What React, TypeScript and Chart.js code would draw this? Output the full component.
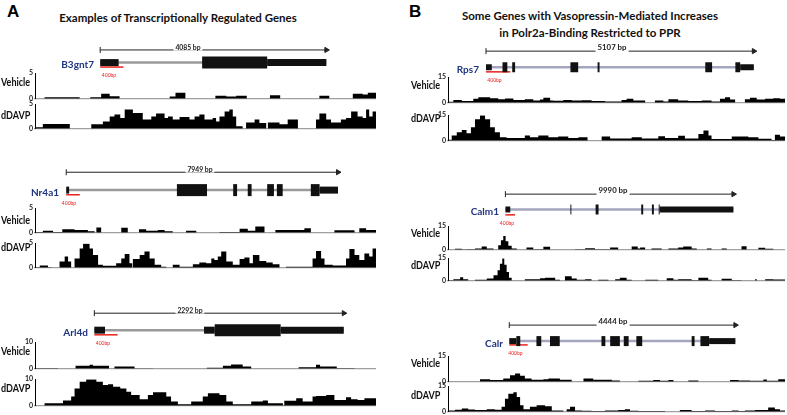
import React, { useEffect, useRef } from "react";
import { Chart, registerables } from "chart.js";
Chart.register(...registerables);

type Step = [number, number];
type Exon = [number, number, "cds" | "utr"];

// ---------------- DATA ----------------
const geneNames = ["B3gnt7", "Nr4a1", "Arl4d", "Rps7", "Calm1", "Calr"];
const geneLengthsBp = [4085, 7949, 2292, 5107, 9990, 4444];
// visible genomic window (bp relative to TSS)
const geneWindows: [number, number][] = [
  [-1087, 4891], [-767, 8914], [-499, 2542], [-629, 5606], [-2296, 12031], [-1106, 5321],
];
const redBarBp = [421, 397, 214, 463, 425, 362];
const trackMax = [5, 5, 10, 15, 15, 15];

const b3gnt7Exons: Exon[] = [[0, 333, "utr"], [1841, 3016, "cds"], [3016, 4085, "utr"]];
const nr4a1Exons: Exon[] = [[0, 85, "utr"], [3237, 4117, "cds"], [4883, 4997, "cds"], [5309, 5422, "cds"], [5877, 6075, "cds"], [6161, 6331, "cds"], [7154, 7410, "cds"], [7410, 7949, "utr"]];
const arl4dExons: Exon[] = [[0, 98, "utr"], [1008, 1106, "utr"], [1106, 1712, "cds"], [1712, 2292, "utr"]];
const rps7Exons: Exon[] = [[0, 111, "utr"], [315, 407, "cds"], [500, 555, "cds"], [1610, 1758, "cds"], [2128, 2165, "cds"], [4181, 4311, "cds"], [4755, 4847, "cds"], [4847, 5107, "utr"]];
const calm1Exons: Exon[] = [[0, 213, "utr"], [2848, 2890, "cds"], [3953, 4081, "cds"], [5951, 6037, "cds"], [6419, 6504, "cds"], [6717, 6760, "cds"], [6760, 9990, "utr"]];
const calrExons: Exon[] = [[0, 139, "utr"], [139, 216, "cds"], [534, 629, "cds"], [801, 992, "cds"], [1812, 1888, "cds"], [1983, 2174, "cds"], [2250, 2346, "cds"], [2498, 2613, "cds"], [3585, 3642, "cds"], [3757, 3928, "cds"], [3928, 4444, "utr"]];

// tracks: [position % of window, value] step starts
const b3gnt7Vehicle: Step[] = [[0,0],[2.8,0.3],[13.1,0],[16.2,0.3],[19.4,1.0],[21.9,0.5],[24.8,0],[39.5,0.45],[41.2,1.2],[44.1,0],[52.9,0.6],[56.1,0.45],[59.0,0.6],[62.1,0],[68.9,0.7],[71.9,0],[83.4,0.6],[86.3,0],[93.2,1.0],[96.1,0.85],[97.6,1.2],[100,1.2]];
const b3gnt7DDAVP: Step[] = [[0,0.3],[2.3,1.0],[10.2,0],[16.5,0.9],[19.9,1.5],[21.9,2.5],[23.3,2.9],[25.0,2.2],[26.3,3.9],[28.7,3.2],[31.6,1.9],[34.1,2.5],[35.5,3.1],[38.0,2.2],[39.0,2.5],[40.4,1.9],[42.4,2.4],[45.3,1.9],[46.8,2.5],[48.2,2.9],[49.7,1.9],[52.1,2.2],[53.1,1.5],[54.1,2.5],[55.6,3.5],[57.0,3.9],[58.0,2.5],[59.0,0.5],[60.9,0],[61.9,1.3],[64.4,1.9],[65.8,1.2],[67.8,0],[68.3,1.3],[71.7,0.9],[74.1,1.9],[77.1,0],[82.4,1.9],[83.4,3.1],[85.4,1.9],[86.8,1.3],[89.7,1.9],[91.2,2.2],[92.7,3.5],[94.6,2.5],[96.1,2.2],[97.1,3.9],[98.0,2.5],[99.0,3.5],[100,3.5]];
const nr4a1Vehicle: Step[] = [[0,0.15],[2.3,0.4],[5.3,0.15],[8.0,0.7],[11.6,0.55],[15.5,0.3],[17.5,0],[18.0,1.1],[19.4,0],[25.3,1.05],[27.2,0],[30.5,0.7],[32.6,0.4],[36.0,0.55],[38.0,0.3],[40.4,0],[44.3,0.4],[47.3,0],[54.1,0.15],[60.0,0.8],[62.4,0.4],[64.6,1.3],[67.3,0],[70.5,0.55],[79.0,0.9],[80.9,0],[87.8,0.5],[93.7,0],[95.1,0.9],[97.1,0.55],[100,0.55]];
const nr4a1DDAVP: Step[] = [[0,0.1],[1.4,0.45],[3.8,0.1],[4.8,0],[7.2,1.3],[8.7,2.3],[9.7,1.3],[10.6,0],[11.6,1.9],[13.1,3.9],[14.1,4.9],[16.0,3.9],[17.0,2.6],[18.5,0.6],[19.9,0.4],[23.8,0.9],[25.3,1.9],[26.3,2.8],[27.7,0.9],[28.5,0],[28.7,1.8],[30.7,2.6],[32.1,3.3],[33.6,1.9],[35.1,0.6],[37.0,0.2],[38.5,0],[40.4,0.6],[42.4,0.2],[46.3,0.7],[48.2,1.1],[50.2,0.9],[51.7,1.9],[52.6,1.6],[53.6,2.3],[54.6,3.3],[56.1,1.3],[58.0,0.6],[60.0,1.8],[61.4,2.1],[62.9,0.9],[63.9,2.6],[65.8,1.4],[67.8,1.1],[69.7,0.7],[71.7,0],[73.6,0.2],[81.4,1.9],[82.4,3.4],[83.9,1.9],[84.9,0.6],[87.3,0.45],[91.2,1.9],[92.2,3.8],[93.7,2.6],[95.1,1.6],[96.6,2.9],[98.0,2.3],[99.0,3.9],[100,3.9]];
const arl4dVehicle: Step[] = [[0,0.25],[6.7,0],[11.9,1.1],[16.0,1.5],[17.0,1.1],[21.7,0],[23.3,0.85],[29.2,0.1],[34.6,0],[50.4,0.4],[55.1,1.1],[57.5,1.6],[60.9,0.85],[63.4,0],[77.3,0.6],[82.4,1.5],[83.6,0.85],[88.5,0.25],[93.7,0],[100,0]];
const arl4dDDAVP: Step[] = [[0,0],[2.8,1.0],[8.2,2.0],[10.6,3.5],[11.6,6.5],[13.1,9.0],[15.0,10],[18.0,9.0],[19.9,7.8],[21.4,8.1],[22.9,7.2],[25.0,6.5],[26.8,5.3],[28.2,4.1],[30.7,2.5],[33.1,4.1],[34.6,5.1],[38.5,3.5],[39.9,1.6],[41.9,0.6],[45.8,1.6],[49.2,3.5],[50.7,4.7],[54.1,4.1],[56.1,1.6],[58.0,0.6],[63.4,1.6],[66.8,2.0],[68.3,1.0],[72.7,0.2],[73.1,1.9],[76.6,2.8],[78.5,1.6],[81.4,3.5],[82.4,3.7],[85.4,4.1],[87.8,2.2],[91.2,3.2],[92.7,2.5],[94.6,2.2],[96.6,2.8],[100,2.8]];
const rps7Vehicle: Step[] = [[0,0.6],[1.6,1.7],[4.1,1.0],[7.5,2.3],[9.0,3.3],[12.5,2.7],[14.9,2.1],[16.9,2.5],[19.4,1.7],[22.8,2.1],[25.3,1.3],[27.3,1.9],[28.3,2.9],[30.3,1.3],[31.3,1.2],[34.2,1.7],[36.7,1.3],[39.7,1.5],[42.6,1.0],[46.6,0.8],[51.5,1.7],[53.0,2.3],[55.0,1.3],[58.5,0],[61.4,1.3],[63.9,0.8],[65.4,2.1],[68.3,1.3],[71.3,1.0],[75.3,1.3],[78.2,0.8],[80.7,2.3],[82.2,3.3],[83.7,1.9],[85.2,0],[88.1,2.1],[89.6,2.9],[91.6,1.9],[94.1,2.3],[96.5,2.7],[98.5,2.3],[100,2.3]];
const rps7DDAVP: Step[] = [[0,0.6],[1.1,3.1],[2.6,5.0],[4.1,6.4],[5.5,4.4],[6.8,7.9],[8.0,12.7],[9.5,15],[11.0,12.7],[12.5,7.9],[13.9,5.0],[15.4,2.1],[17.4,1.7],[22.8,3.1],[24.3,2.1],[26.8,3.1],[29.8,2.1],[32.7,2.5],[35.7,1.7],[38.7,2.1],[41.4,0],[45.6,2.5],[48.1,1.3],[54.5,2.1],[57.5,1.3],[62.4,2.7],[64.4,1.7],[68.3,2.9],[70.3,1.3],[74.3,4.0],[75.8,6.0],[77.3,3.1],[78.2,1.0],[84.2,2.5],[89.1,2.1],[92.1,1.2],[96.0,0.5],[97.0,3.5],[98.5,2.5],[100,2.5]];
const calm1Vehicle: Step[] = [[0,0],[2.1,0.6],[4.1,0.2],[5.5,0.4],[8.0,0.8],[10.0,2.1],[11.5,0.8],[13.5,0],[14.9,2.9],[15.7,6.0],[16.4,8.75],[17.1,5.4],[17.9,2.5],[18.9,0.8],[20.4,0],[23.3,1.5],[25.3,0.4],[28.3,1.9],[30.3,0],[37.7,0.4],[40.7,1.0],[43.6,0.4],[48.1,1.5],[50.5,0],[54.5,2.1],[56.3,0.8],[57.0,1.5],[58.5,0],[60.4,0.8],[63.4,0],[65.4,0.8],[68.3,1.5],[69.8,2.1],[72.3,0.8],[73.8,0],[76.8,0.8],[78.2,0],[81.2,0.8],[82.7,0],[87.1,2.3],[88.6,0],[92.1,1.25],[94.1,0.6],[96.5,0],[100,0]];
const calm1DDAVP: Step[] = [[0,0.4],[1.6,1.1],[3.6,2.4],[4.5,1.1],[6.0,0],[8.0,0.65],[11.5,1.5],[13.5,3.7],[14.7,7.0],[15.4,11.3],[16.1,15],[16.7,10.7],[17.4,5.9],[18.1,2.0],[18.9,0],[22.8,1.1],[27.3,1.7],[28.8,2.0],[31.8,0.65],[33.2,0],[34.7,3.0],[36.7,1.5],[38.2,0.65],[40.7,1.1],[42.6,0],[44.6,0.65],[47.6,0],[49.6,1.1],[51.0,2.0],[53.0,0.65],[54.5,0],[58.5,0.65],[62.4,0],[64.9,1.7],[66.9,0.65],[68.3,1.1],[72.3,0.4],[74.3,2.0],[77.2,0.65],[78.2,0],[81.2,1.3],[84.2,0.4],[87.1,0],[91.1,1.1],[91.6,0],[94.1,1.1],[96.5,0.9],[100,0.9]];
const calrVehicle: Step[] = [[0,0],[9.5,1.5],[12.5,1.0],[16.4,1.9],[18.4,3.8],[19.9,4.8],[21.4,3.5],[22.8,1.9],[24.8,1.2],[28.3,1.5],[29.8,1.9],[33.2,1.2],[36.7,0],[40.2,1.9],[43.1,1.2],[48.6,0.8],[51.0,0],[56.5,0.6],[60.9,1.0],[62.9,0.6],[65.4,1.0],[66.9,0],[71.3,0.8],[74.3,0],[83.7,1.0],[86.2,0.8],[89.6,0.6],[93.6,1.3],[94.6,0.6],[98.0,1.5],[100,1.5]];
const calrDDAVP: Step[] = [[0,0.8],[2.1,1.2],[4.1,1.9],[6.0,1.3],[8.0,1.0],[11.5,1.5],[13.9,1.2],[15.9,2.9],[16.9,7.7],[17.9,10.6],[19.4,11.5],[20.4,8.7],[21.4,3.8],[22.4,1.5],[24.3,2.9],[26.3,3.8],[28.8,3.3],[30.8,0.8],[34.2,0],[35.2,1.5],[36.2,2.9],[37.7,0.8],[39.7,0.6],[42.6,0.4],[46.6,0.8],[50.5,1.0],[52.5,1.5],[54.0,0.6],[56.5,0.4],[64.4,0],[68.8,1.0],[72.3,0.4],[76.3,0.8],[79.2,0.4],[84.2,0.8],[86.2,0.4],[88.1,0.8],[91.1,1.0],[95.0,2.5],[97.0,1.5],[98.5,0.8],[100,0.8]];

const geneExons = [b3gnt7Exons, nr4a1Exons, arl4dExons, rps7Exons, calm1Exons, calrExons];
const vehicleTracks = [b3gnt7Vehicle, nr4a1Vehicle, arl4dVehicle, rps7Vehicle, calm1Vehicle, calrVehicle];
const ddavpTracks = [b3gnt7DDAVP, nr4a1DDAVP, arl4dDDAVP, rps7DDAVP, calm1DDAVP, calrDDAVP];

const panelTitles = {
  A: ["Examples of Transcriptionally Regulated Genes"],
  B: ["Some Genes with Vasopressin-Mediated Increases", "in Polr2a-Binding Restricted to PPR"],
};

// ---------------- LAYOUT ----------------
type Block = {
  axisX: number; right: number; scaleY: number; geneY: number; redY: number; scaleTextX: number;
  veh: [number, number]; dd: [number, number]; vehLabelY: number; ddLabelY: number; labelX: number;
  side: "L" | "R";
};
const layout: Block[] = [
  { axisX: 35, right: 376, scaleY: 47, geneY: 64, redY: 70, scaleTextX: 188, veh: [73, 99], dd: [104, 129], vehLabelY: 82, ddLabelY: 115, labelX: 1, side: "L" },
  { axisX: 35, right: 376, scaleY: 169, geneY: 192, redY: 198, scaleTextX: 200, veh: [208, 233], dd: [243, 268], vehLabelY: 220, ddLabelY: 247, labelX: 1, side: "L" },
  { axisX: 35, right: 376, scaleY: 310, geneY: 332, redY: 338, scaleTextX: 190, veh: [342, 369], dd: [379, 406], vehLabelY: 351, ddLabelY: 388, labelX: 1, side: "L" },
  { axisX: 448, right: 785, scaleY: 48, geneY: 69, redY: 75, scaleTextX: 612, veh: [77, 103], dd: [115, 141], vehLabelY: 85, ddLabelY: 118, labelX: 411, side: "R" },
  { axisX: 448, right: 785, scaleY: 191, geneY: 211, redY: 218, scaleTextX: 613, veh: [226, 250], dd: [258, 281], vehLabelY: 233, ddLabelY: 265, labelX: 411, side: "R" },
  { axisX: 448, right: 785, scaleY: 322, geneY: 343, redY: 348, scaleTextX: 613, veh: [356, 382], dd: [386, 412], vehLabelY: 363, ddLabelY: 395, labelX: 411, side: "R" },
];

const PADT = 6, PADB = 6, AXW = 14;
const FONT = "Lato, 'Open Sans', sans-serif";

function Track({ steps, yMax, left, right, top, bottom }: { steps: Step[]; yMax: number; left: number; right: number; top: number; bottom: number }) {
  const ref = useRef<HTMLCanvasElement>(null);
  const w = right - left + AXW;
  const h = bottom - top + PADT + PADB;
  useEffect(() => {
    const chart = new Chart(ref.current!, {
      type: "line",
      data: {
        datasets: [{
          data: steps.map(([x, y]) => ({ x, y })),
          stepped: true, fill: "origin", backgroundColor: "#000",
          borderColor: "rgba(0,0,0,0)", borderWidth: 0, pointRadius: 0,
        }],
      },
      options: {
        animation: false, responsive: false, maintainAspectRatio: false, events: [],
        layout: { padding: { top: PADT, bottom: PADB, left: 0, right: 0 } },
        plugins: { legend: { display: false }, tooltip: { enabled: false } },
        scales: {
          x: {
            type: "linear", min: 0, max: 100,
            ticks: { display: false }, grid: { display: false, drawTicks: false },
            border: { display: true, color: "#a0a0a0", width: 1.2 },
            afterFit: (s: any) => { s.height = 0; },
          },
          y: {
            type: "linear", min: 0, max: yMax,
            afterBuildTicks: (s: any) => { s.ticks = [{ value: 0 }, { value: yMax }]; },
            ticks: { font: { size: 7, family: FONT, weight: "bold" }, color: "#222", padding: 2 },
            grid: { display: false, drawTicks: false },
            border: { display: true, color: "#000", width: 1 },
            afterFit: (s: any) => { s.width = AXW; },
          },
        },
      } as any,
    });
    return () => chart.destroy();
  }, []);
  return <canvas ref={ref} width={w} height={h} style={{ position: "absolute", left: left - AXW, top: top - PADT, width: w, height: h }} />;
}

function GeneHeader({ idx }: { idx: number }) {
  const ref = useRef<HTMLCanvasElement>(null);
  const b = layout[idx];
  const w = b.right - b.axisX;
  const top = b.scaleY - 8;
  const h = b.redY - b.scaleY + 16;
  useEffect(() => {
    const scaleRow = b.scaleY - top;
    const geneRow = b.geneY - top;
    const redRow = b.redY - top;
    const L = geneLengthsBp[idx];
    const exons = geneExons[idx];
    const cdsH = b.side === "L" ? 12 : 10;
    const utrH = b.side === "L" ? 7 : 6;
    const dark = "#111";
    const datasets: any[] = [];
    exons.forEach(([s, e, kind]) => {
      datasets.push({
        data: [{ x: s, y: geneRow }, { x: e, y: geneRow }],
        borderColor: dark, borderWidth: kind === "cds" ? cdsH : utrH,
        borderCapStyle: "butt", pointRadius: 0,
      });
    });
    datasets.push({
      data: [{ x: exons[0][0], y: geneRow }, { x: exons[exons.length - 1][1], y: geneRow }],
      borderColor: b.side === "L" ? "#9a9a9a" : "#a4a6c0", borderWidth: 2.5, pointRadius: 0,
    });
    datasets.push({
      data: [{ x: 0, y: redRow }, { x: redBarBp[idx], y: redRow }],
      borderColor: "#e8211c", borderWidth: 1.5, pointRadius: 0,
    });
    datasets.push({
      data: [{ x: 0, y: scaleRow }, { x: L, y: scaleRow }],
      borderColor: "#222", borderWidth: 1,
      pointStyle: ["line", "triangle"], pointRotation: [90, 90], pointRadius: [3, 3],
      pointBackgroundColor: "#222", pointBorderColor: "#222", pointBorderWidth: [1, 1],
    });
    const chart = new Chart(ref.current!, {
      type: "line",
      data: { datasets },
      options: {
        animation: false, responsive: false, maintainAspectRatio: false, events: [],
        layout: { padding: 0 },
        plugins: { legend: { display: false }, tooltip: { enabled: false } },
        scales: {
          x: { type: "linear", display: false, min: geneWindows[idx][0], max: geneWindows[idx][1] },
          y: { type: "linear", display: false, min: 0, max: h, reverse: true },
        },
      } as any,
    });
    return () => chart.destroy();
  }, []);
  const win = geneWindows[idx];
  const bpToPx = (bp: number) => b.axisX + ((bp - win[0]) / (win[1] - win[0])) * w;
  const geneStartPx = bpToPx(0);
  const redCenter = bpToPx(redBarBp[idx] / 2);
  const small = b.side === "L" ? 6.8 : 7.8;
  return (
    <>
      <canvas ref={ref} width={w} height={h} style={{ position: "absolute", left: b.axisX, top, width: w, height: h }} />
      <div style={{ position: "absolute", left: b.scaleTextX, top: b.scaleY, transform: "translate(-50%,-50%)", font: `bold ${small}px ${FONT}`, background: "#fff", padding: "0 2px", whiteSpace: "nowrap", lineHeight: 1, color: "#222" }}>
        {geneLengthsBp[idx]} bp
      </div>
      <div style={{ position: "absolute", right: 787 - geneStartPx + 3, top: b.geneY, transform: "translateY(-50%)", font: `bold 10px ${FONT}`, color: "#1f3580", whiteSpace: "nowrap", lineHeight: 1 }}>
        {geneNames[idx]}
      </div>
      <div style={{ position: "absolute", left: redCenter, top: b.redY + 5, transform: "translate(-50%,-50%)", font: `5px ${FONT}`, color: "#e8211c", whiteSpace: "nowrap", lineHeight: 1 }}>
        400bp
      </div>
    </>
  );
}

function Label({ text, x, y }: { text: string; x: number; y: number }) {
  return (
    <div style={{ position: "absolute", left: x, top: y, transform: "translateY(-50%) scaleX(0.86)", transformOrigin: "left center", font: `bold 10.5px ${FONT}`, color: "#111", whiteSpace: "nowrap", lineHeight: 1 }}>
      {text}
    </div>
  );
}

export default function App() {
  return (
    <div style={{ position: "absolute", left: 0, top: 0, width: 787, height: 415, background: "#fff", overflow: "hidden", fontFamily: FONT }}>
      <div style={{ position: "absolute", left: 7, top: 3, font: "bold 17px 'Liberation Sans', Arial, sans-serif", lineHeight: 1 }}>A</div>
      <div style={{ position: "absolute", left: 409, top: 3, font: "bold 17px 'Liberation Sans', Arial, sans-serif", lineHeight: 1 }}>B</div>
      <div style={{ position: "absolute", left: 178, top: 18, transform: "translate(-50%,-50%)", font: `bold 11.5px ${FONT}`, whiteSpace: "nowrap", lineHeight: 1, color: "#111" }}>
        {panelTitles.A[0]}
      </div>
      {panelTitles.B.map((t, i) => (
        <div key={i} style={{ position: "absolute", left: 590, top: 16 + i * 17, transform: "translate(-50%,-50%)", font: `bold 11.5px ${FONT}`, whiteSpace: "nowrap", lineHeight: 1, color: "#111" }}>
          {t}
        </div>
      ))}
      {layout.map((b, i) => (
        <React.Fragment key={i}>
          <GeneHeader idx={i} />
          <Track steps={vehicleTracks[i]} yMax={trackMax[i]} left={b.axisX} right={b.right} top={b.veh[0]} bottom={b.veh[1]} />
          <Track steps={ddavpTracks[i]} yMax={trackMax[i]} left={b.axisX} right={b.right} top={b.dd[0]} bottom={b.dd[1]} />
          <Label text="Vehicle" x={b.labelX} y={b.vehLabelY} />
          <Label text="dDAVP" x={b.labelX} y={b.ddLabelY} />
        </React.Fragment>
      ))}
    </div>
  );
}
